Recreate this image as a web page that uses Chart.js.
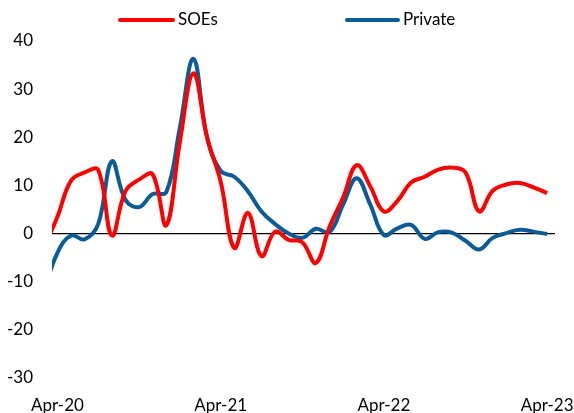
<!DOCTYPE html>
<html>
<head>
<meta charset="utf-8">
<script src="https://cdn.jsdelivr.net/npm/chart.js@4"></script>
<style>
  body { margin: 0; background: #fff; }
  #wrap { width: 574px; height: 413px; }
</style>
</head>
<body>
<div id="wrap"><canvas id="myChart" width="574" height="413"></canvas></div>
<script>
// monthly readings, Mar-20 to Apr-23 (first point sits just off the left edge)
const months = ['Mar-20', 'Apr-20', 'May-20', 'Jun-20', 'Jul-20', 'Aug-20', 'Sep-20', 'Oct-20', 'Nov-20', 'Dec-20',
    'Jan-21', 'Feb-21', 'Mar-21', 'Apr-21', 'May-21', 'Jun-21', 'Jul-21', 'Aug-21', 'Sep-21', 'Oct-21',
    'Nov-21', 'Dec-21', 'Jan-22', 'Feb-22', 'Mar-22', 'Apr-22', 'May-22', 'Jun-22', 'Jul-22', 'Aug-22',
    'Sep-22', 'Oct-22', 'Nov-22', 'Dec-22', 'Jan-23', 'Feb-23', 'Mar-23', 'Apr-23'];

const soes = [-3, 3.5, 11, 12.7, 13.2, -0.4, 8.8, 11.2, 12.3, 1.7,
    19, 33.3, 20, 10.8, -3, 4.3, -4.7, 0.4, -1.3, -1.8,
    -6.1, 1.4, 7.5, 14.2, 9.8, 4.6, 6.8, 10.6, 11.8, 13.3,
    13.7, 12.7, 4.6, 8.9, 10.2, 10.5, 9.6, 8.4];

const privateCo = [-12, -4, -0.4, -1.2, 2, 15, 7, 5.5, 8.2, 8.6,
    22, 36.3, 20, 13, 11.8, 8.8, 4.6, 2, 0, -0.9,
    1, 0.3, 6, 11.5, 6, -0.3, 1.1, 1.8, -1.1, 0.3,
    0.2, -1.5, -3.3, -0.9, 0.1, 0.8, 0.4, -0.1];

const tickLabels = ['Apr-20', 'Apr-21', 'Apr-22', 'Apr-23'];
const yTicks = [-30, -20, -10, 0, 10, 20, 30, 40];

const FONT = "Lato, 'Open Sans', sans-serif";

// x position = month offset from Apr-20
function toPoints(values) {
    return values.map((v, i) => ({ x: i - 1, y: v }));
}
const tickPos = tickLabels.map(t => months.indexOf(t) - 1);

// legend drawn by hand so the wide gap between the two entries can be kept
const lineLegend = {
    id: 'lineLegend',
    afterDraw(chart) {
        const ctx = chart.ctx;
        const spots = [[120, 173], [347, 398]];
        ctx.save();
        chart.data.datasets.forEach((ds, i) => {
            const [x1, x2] = spots[i];
            ctx.strokeStyle = ds.borderColor;
            ctx.lineWidth = 4;
            ctx.lineCap = 'round';
            ctx.beginPath();
            ctx.moveTo(x1, 20);
            ctx.lineTo(x2, 20);
            ctx.stroke();
            ctx.fillStyle = '#000';
            ctx.font = '17px ' + FONT;
            ctx.textBaseline = 'middle';
            ctx.textAlign = 'left';
            ctx.fillText(ds.label, x2 + 5, 20);
        });
        ctx.restore();
    }
};

new Chart(document.getElementById('myChart').getContext('2d'), {
    type: 'line',
    data: {
        datasets: [{
            label: 'SOEs',
            data: toPoints(soes),
            borderColor: '#ff0000',
            borderWidth: 4,
            pointRadius: 0,
            tension: 0.4,
            clip: 0
        }, {
            label: 'Private',
            data: toPoints(privateCo),
            borderColor: '#0b5b96',
            borderWidth: 4,
            pointRadius: 0,
            tension: 0.4,
            clip: 0
        }]
    },
    options: {
        responsive: false,
        animation: false,
        layout: { padding: { top: 41, right: 19, bottom: 0, left: 0 } },
        plugins: {
            legend: { display: false },
            tooltip: { enabled: false }
        },
        scales: {
            x: {
                type: 'linear',
                min: -0.4,
                max: 36.58,
                afterBuildTicks: function(scale) {
                    scale.ticks = tickPos.map(v => ({ value: v }));
                },
                afterFit: function(scale) {
                    scale.height = 35;
                    scale.paddingLeft = 0;
                    scale.paddingRight = 0;
                },
                ticks: {
                    autoSkip: false,
                    maxRotation: 0,
                    padding: 9,
                    color: '#000',
                    font: { family: FONT, size: 17 },
                    callback: function(value) {
                        return tickLabels[tickPos.indexOf(value)];
                    }
                },
                grid: { display: false },
                border: { display: false }
            },
            y: {
                min: -30,
                max: 40,
                afterFit: function(scale) { scale.width = 52; },
                afterBuildTicks: function(scale) {
                    scale.ticks = yTicks.map(v => ({ value: v }));
                },
                ticks: {
                    padding: 19,
                    color: '#000',
                    font: { family: FONT, size: 17 }
                },
                grid: {
                    drawTicks: false,
                    lineWidth: 1.2,
                    color: ctx => ctx.tick && ctx.tick.value === 0 ? '#000' : 'rgba(0,0,0,0)'
                },
                border: { display: false }
            }
        }
    },
    plugins: [lineLegend]
});
</script>
</body>
</html>
